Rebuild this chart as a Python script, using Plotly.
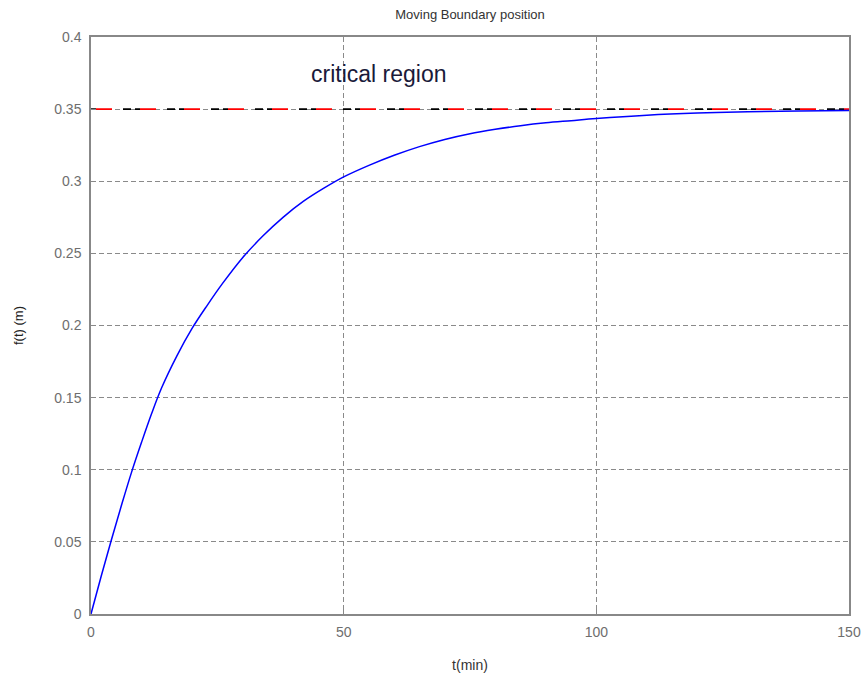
import plotly.graph_objects as go

t_min = [0, 2, 4, 6, 8, 10, 12, 14, 17, 20, 23, 26, 30, 34, 38, 42, 46, 50, 55, 60, 65,
         70, 75, 80, 85, 90, 95, 100, 110, 120, 130, 140, 150]
f_t = [0, 0.026, 0.051, 0.075, 0.098, 0.119, 0.139, 0.157, 0.179, 0.198, 0.214, 0.229,
       0.247, 0.262, 0.275, 0.286, 0.295, 0.303, 0.311, 0.318, 0.324, 0.329, 0.333,
       0.336, 0.3385, 0.3405, 0.342, 0.3435, 0.3458, 0.3473, 0.3482, 0.3487, 0.349]
critical_t = [0, 150]
critical_f = [0.35, 0.35]
x_ticks = [0, 50, 100, 150]
y_ticks = [0, 0.05, 0.1, 0.15, 0.2, 0.25, 0.3, 0.35, 0.4]
y_tick_labels = ["0", "0.05", "0.1", "0.15", "0.2", "0.25", "0.3", "0.35", "0.4"]

FONT = "Liberation Sans, Arial, sans-serif"
GRAY = "#6e6e6e"

W, H = 866, 682

fig = go.Figure()
fig.add_trace(go.Scatter(x=critical_t, y=critical_f, mode="lines",
                         line=dict(color="#ff0000", width=1.6, dash="0px,5px,16px,23px"),
                         hoverinfo="skip", showlegend=False))
fig.add_trace(go.Scatter(x=critical_t, y=critical_f, mode="lines",
                         line=dict(color="#000000", width=1.6, dash="5px,27px,8px,4px"),
                         hoverinfo="skip", showlegend=False))
fig.add_trace(go.Scatter(x=t_min, y=f_t, mode="lines",
                         line=dict(color="#0000ff", width=1.5, shape="spline", smoothing=1.0),
                         showlegend=False))

axis_common = dict(
    showline=True, linecolor="#888888", linewidth=1.5, mirror=True,
    ticks="inside", ticklen=5, tickcolor="#888888",
    showgrid=True, gridcolor="#8a8a8a", griddash="5px,3px", gridwidth=1,
    zeroline=False, tickfont=dict(family=FONT, size=14, color=GRAY),
    ticklabeloverflow="allow",
)

fig.update_xaxes(range=[0, 150], tickvals=x_ticks, ticklabelstandoff=4, **axis_common,
                 title=dict(text="t(min)", font=dict(family=FONT, size=14, color="#333333"),
                            standoff=22))
fig.update_yaxes(range=[0, 0.4], tickvals=y_ticks, ticktext=y_tick_labels,
                 ticklabelstandoff=5, **axis_common,
                 title=dict(text="f(t) (m)", font=dict(family=FONT, size=13, color="#222222"),
                            standoff=28))

fig.add_annotation(x=43.1, y=0.3745, xref="x", yref="y", text="critical region",
                   showarrow=False, xanchor="left", yanchor="middle",
                   font=dict(family=FONT, size=23, color="#1a1a3a"))

fig.update_layout(
    width=W, height=H,
    margin=dict(l=91, r=17, t=37, b=68, autoexpand=False),
    paper_bgcolor="white", plot_bgcolor="white",
    title=dict(text="Moving Boundary position", x=(91 + W - 17) / 2 / W, xanchor="center",
               y=1 - 14 / H, yanchor="middle", yref="container",
               font=dict(family=FONT, size=13, color="#333333")),
)

fig.write_html(
    "out.html",
    config={"displayModeBar": False},
    post_script="document.body.style.margin='0';document.body.style.overflow='hidden';",
)
